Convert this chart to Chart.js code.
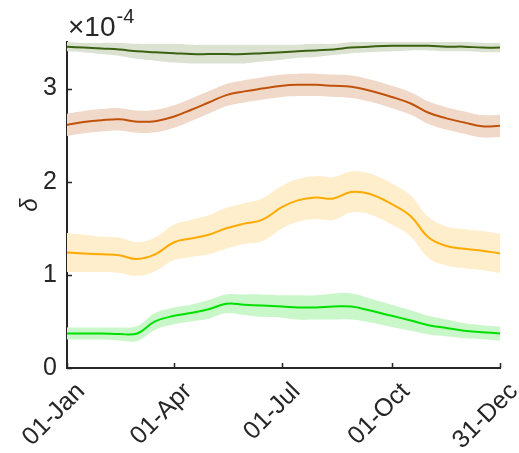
<!DOCTYPE html>
<html>
<head>
<meta charset="utf-8">
<script src="https://cdn.jsdelivr.net/npm/chart.js@4/dist/chart.umd.min.js"></script>
<style>
  html, body { margin: 0; padding: 0; background: #fff; }
</style>
</head>
<body>
<canvas id="c" width="519" height="453"></canvas>
<script>
// day of year for every sample
const days = [1, 15, 30, 45, 60, 75, 91, 105, 120, 135, 150, 165, 182, 195, 210, 225, 240, 255, 274, 290, 305, 320, 335, 350, 365];

const tickDays = [1, 91, 182, 274, 365];
const tickLabels = ['01-Jan', '01-Apr', '01-Jul', '01-Oct', '31-Dec'];
const yTicks = [0, 1, 2, 3];

// values in units of 1e-4
const darkMean   = [3.45, 3.44, 3.43, 3.42, 3.40, 3.39, 3.38, 3.37, 3.37, 3.37, 3.37, 3.38, 3.39, 3.40, 3.41, 3.42, 3.44, 3.45, 3.46, 3.46, 3.46, 3.45, 3.45, 3.44, 3.44];
const darkSpread = [0.05, 0.05, 0.06, 0.07, 0.08, 0.09, 0.10, 0.10, 0.10, 0.10, 0.10, 0.09, 0.08, 0.07, 0.07, 0.06, 0.06, 0.06, 0.06, 0.05, 0.05, 0.05, 0.05, 0.05, 0.05];

const brownMean   = [2.61, 2.64, 2.66, 2.67, 2.645, 2.65, 2.70, 2.77, 2.85, 2.93, 2.97, 3.00, 3.03, 3.04, 3.04, 3.03, 3.02, 2.98, 2.91, 2.84, 2.74, 2.68, 2.635, 2.595, 2.60];
const brownSpread = [0.12, 0.12, 0.12, 0.12, 0.12, 0.12, 0.12, 0.12, 0.12, 0.12, 0.12, 0.12, 0.12, 0.12, 0.12, 0.12, 0.12, 0.12, 0.12, 0.12, 0.12, 0.12, 0.12, 0.12, 0.12];

const yellowMean   = [1.24, 1.23, 1.22, 1.21, 1.17, 1.22, 1.35, 1.39, 1.43, 1.50, 1.55, 1.59, 1.73, 1.80, 1.83, 1.82, 1.89, 1.87, 1.76, 1.63, 1.40, 1.31, 1.28, 1.26, 1.23];
const yellowSpread = [0.21, 0.20, 0.19, 0.19, 0.18, 0.18, 0.19, 0.20, 0.21, 0.22, 0.22, 0.23, 0.23, 0.23, 0.23, 0.23, 0.22, 0.22, 0.22, 0.22, 0.22, 0.21, 0.21, 0.21, 0.21];

const greenMean   = [0.37, 0.37, 0.37, 0.365, 0.37, 0.50, 0.56, 0.59, 0.63, 0.69, 0.68, 0.67, 0.66, 0.65, 0.65, 0.66, 0.66, 0.62, 0.56, 0.51, 0.46, 0.43, 0.40, 0.385, 0.37];
const greenSpread = [0.065, 0.065, 0.065, 0.07, 0.08, 0.09, 0.09, 0.09, 0.10, 0.10, 0.11, 0.12, 0.12, 0.13, 0.13, 0.14, 0.14, 0.13, 0.12, 0.11, 0.10, 0.09, 0.08, 0.075, 0.075];

const series = [
  { mean: darkMean,   spread: darkSpread,   line: '#3b6210', band: '#dbe2d2' },
  { mean: brownMean,  spread: brownSpread,  line: '#c0520a', band: '#f1d9ca' },
  { mean: yellowMean, spread: yellowSpread, line: '#ffaa00', band: '#ffeecb' },
  { mean: greenMean,  spread: greenSpread,  line: '#00e000', band: '#c9f7c9' }
];

const pts = arr => days.map((d, i) => ({ x: d, y: arr[i] }));

const datasets = [];
series.forEach(s => {
  datasets.push({
    data: pts(s.mean.map((m, i) => m + s.spread[i])),
    borderWidth: 0, pointRadius: 0, fill: false, tension: 0.4
  });
  datasets.push({
    data: pts(s.mean.map((m, i) => m - s.spread[i])),
    borderWidth: 0, pointRadius: 0, fill: '-1', backgroundColor: s.band, tension: 0.4
  });
  datasets.push({
    data: pts(s.mean),
    borderColor: s.line, borderWidth: 2, pointRadius: 0, fill: false, tension: 0.4
  });
});

const axisColor = '#262626';
const font = { family: '"Liberation Sans", Arial, sans-serif', size: 25 };

// inward tick marks and the x10^-4 multiplier
const extras = {
  id: 'extras',
  afterDraw(chart) {
    const { ctx, chartArea: a, scales: { x, y } } = chart;
    ctx.save();
    ctx.strokeStyle = axisColor;
    ctx.lineWidth = 1.5;
    ctx.beginPath();
    x.ticks.forEach(t => {
      const px = Math.round(x.getPixelForValue(t.value)) + 0.5;
      ctx.moveTo(px, a.bottom);
      ctx.lineTo(px, a.bottom - 5);
    });
    y.ticks.forEach(t => {
      const py = Math.round(y.getPixelForValue(t.value)) + 0.5;
      ctx.moveTo(a.left, py);
      ctx.lineTo(a.left + 5, py);
    });
    ctx.stroke();

    ctx.fillStyle = axisColor;
    ctx.textBaseline = 'alphabetic';
    ctx.font = '28px "Liberation Sans", Arial, sans-serif';
    ctx.fillText('\u00d710', 68, 36);
    const w = ctx.measureText('\u00d710').width;
    ctx.font = '20px "Liberation Sans", Arial, sans-serif';
    ctx.fillText('-4', 69 + w, 23);
    ctx.restore();
  }
};

new Chart(document.getElementById('c'), {
  type: 'line',
  data: { datasets },
  plugins: [extras],
  options: {
    responsive: false,
    animation: false,
    devicePixelRatio: 1,
    layout: { padding: { left: 0, right: 19, top: 42, bottom: 0 } },
    plugins: {
      legend: { display: false },
      tooltip: { enabled: false },
      filler: { drawTime: 'beforeDatasetsDraw' }
    },
    scales: {
      x: {
        type: 'linear',
        min: 1,
        max: 365,
        grid: { display: false, drawTicks: false },
        border: { display: true, color: axisColor, width: 2 },
        afterBuildTicks: s => { s.ticks = tickDays.map(v => ({ value: v })); },
        afterFit: s => { s.height = 85; s.paddingLeft = 0; s.paddingRight = 0; },
        ticks: {
          autoSkip: false,
          minRotation: 45,
          maxRotation: 45,
          padding: 9,
          labelOffset: 14,
          color: axisColor,
          font,
          callback: v => tickLabels[tickDays.indexOf(v)]
        }
      },
      y: {
        min: 0,
        max: 3.5,
        grid: { display: false, drawTicks: false },
        border: { display: true, color: axisColor, width: 2 },
        afterBuildTicks: s => { s.ticks = yTicks.map(v => ({ value: v })); },
        afterFit: s => { s.width = 67; },
        title: {
          display: true,
          text: '\u03b4',
          color: axisColor,
          font: { family: '"Liberation Sans", Arial, sans-serif', size: 24, style: 'italic' },
          padding: { top: 16, bottom: 0 }
        },
        ticks: {
          padding: 10,
          color: axisColor,
          font
        }
      }
    }
  }
});
</script>
</body>
</html>
